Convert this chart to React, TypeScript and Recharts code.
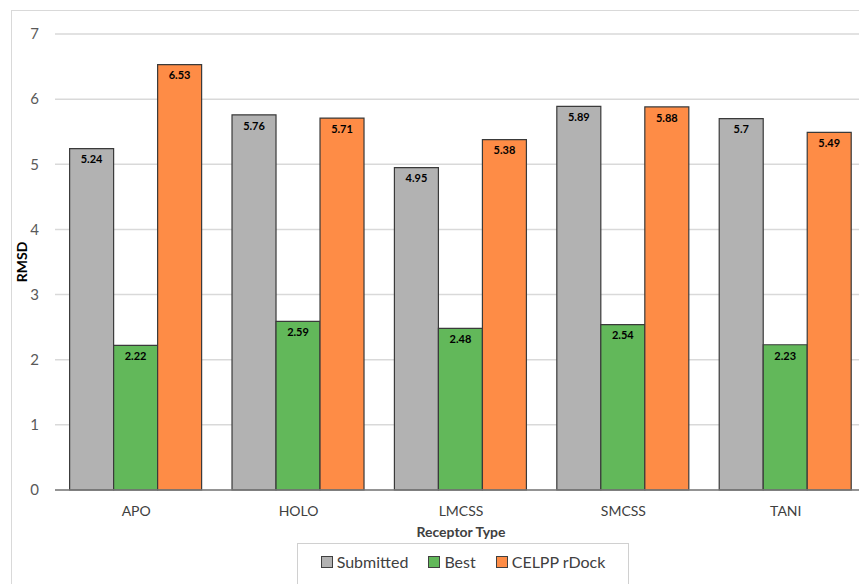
import { BarChart, Bar, XAxis, YAxis, CartesianGrid, LabelList } from "recharts";

const receptorTypes = ["APO", "HOLO", "LMCSS", "SMCSS", "TANI"];
const submitted = [5.24, 5.76, 4.95, 5.89, 5.7];
const best = [2.22, 2.59, 2.48, 2.54, 2.23];
const celppRdock = [6.53, 5.71, 5.38, 5.88, 5.49];
const yTicks = [0, 1, 2, 3, 4, 5, 6, 7];

const series = [
  { key: "submitted", name: "Submitted", color: "#b2b2b2" },
  { key: "best", name: "Best", color: "#62b85a" },
  { key: "celpp", name: "CELPP rDock", color: "#fe8c46" },
];

const chartData = receptorTypes.map((type, i) => ({
  type,
  submitted: submitted[i],
  best: best[i],
  celpp: celppRdock[i],
}));

const FONT = "Lato, 'Open Sans', sans-serif";

// legend box sits below the axis title, drawn as plain HTML
function LegendBox() {
  return (
    <div
      style={{
        position: "absolute",
        left: 297,
        top: 543,
        width: 332,
        height: 50,
        border: "1px solid #d0d0d0",
        boxSizing: "border-box",
        display: "flex",
        alignItems: "flex-start",
        justifyContent: "center",
        paddingTop: 8,
        gap: 20,
        fontFamily: FONT,
        fontSize: 16,
        color: "#404040",
        background: "#fff",
      }}
    >
      {series.map((s) => (
        <div key={s.key} style={{ display: "flex", alignItems: "center" }}>
          <span
            style={{
              width: 10,
              height: 10,
              background: s.color,
              border: "1px solid #404040",
              marginRight: 4,
              display: "inline-block",
            }}
          ></span>
          <span>{s.name}</span>
        </div>
      ))}
    </div>
  );
}

export default function App() {
  return (
    <div
      style={{
        position: "absolute",
        left: 0,
        top: 0,
        width: 859,
        height: 584,
        overflow: "hidden",
        background: "#fff",
      }}
    >
      <div
        style={{
          position: "absolute",
          left: 11,
          top: 10,
          width: 900,
          height: 600,
          border: "1px solid #d9d9d9",
        }}
      ></div>
      <div style={{ position: "absolute", left: 0, top: 0 }}>
        <BarChart
          width={880}
          height={584}
          data={chartData}
          margin={{ top: 34, right: 13, bottom: 64, left: 0 }}
          barCategoryGap="9%"
          barGap={0}
        >
          <CartesianGrid vertical={false} stroke="#d9d9d9" strokeWidth={1.5} />
          <XAxis
            dataKey="type"
            height={30}
            tickLine={false}
            tickMargin={10}
            axisLine={{ stroke: "#7a7a7a", strokeWidth: 1.5 }}
            tick={{ fill: "#404040", fontSize: 14, fontFamily: FONT }}
            label={{
              value: "Receptor Type",
              position: "insideBottom",
              offset: -17,
              style: { fill: "#404040", fontSize: 14, fontWeight: 700, fontFamily: FONT },
            }}
          />
          <YAxis
            width={55}
            domain={[0, 7]}
            ticks={yTicks}
            tickLine={false}
            axisLine={false}
            tickMargin={10}
            tick={{ fill: "#595959", fontSize: 15, fontFamily: FONT }}
            label={{
              value: "RMSD",
              angle: -90,
              position: "insideLeft",
              offset: 22,
              style: { textAnchor: "middle", fill: "#000", fontSize: 14, fontWeight: 700, fontFamily: FONT },
            }}
          />
          {series.map((s) => (
            <Bar
              key={s.key}
              dataKey={s.key}
              name={s.name}
              fill={s.color}
              stroke="#3a3a3a"
              strokeWidth={1.2}
              isAnimationActive={false}
            >
              <LabelList
                dataKey={s.key}
                position="insideTop"
                offset={7}
                style={{ fill: "#000", fontSize: 11, fontWeight: 700, fontFamily: FONT }}
              />
            </Bar>
          ))}
        </BarChart>
      </div>
      <LegendBox />
    </div>
  );
}
